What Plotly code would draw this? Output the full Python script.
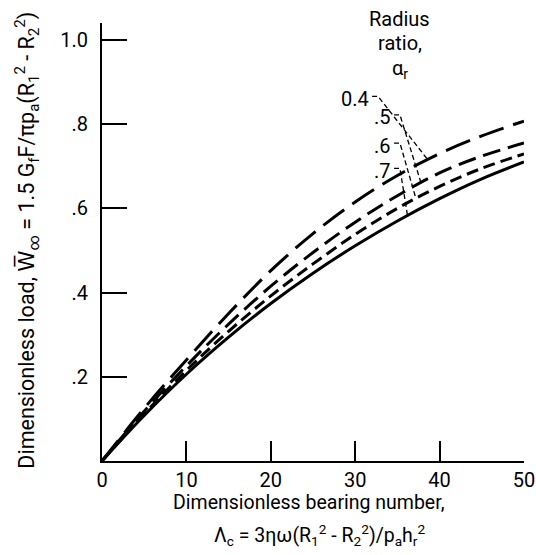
import numpy as np
import plotly.graph_objects as go

# Data
bearing_number = [0, 5, 10, 15, 20, 25, 30, 35, 40, 45, 50]
load_r04 = [0, 0.125, 0.24, 0.35, 0.452, 0.54, 0.615, 0.678, 0.73, 0.772, 0.807]
load_r05 = [0, 0.118, 0.226, 0.325, 0.415, 0.495, 0.567, 0.630, 0.684, 0.724, 0.755]
load_r06 = [0, 0.112, 0.215, 0.308, 0.392, 0.468, 0.538, 0.600, 0.652, 0.695, 0.729]
load_r07 = [0, 0.108, 0.206, 0.294, 0.374, 0.446, 0.511, 0.570, 0.623, 0.670, 0.710]
ratio_labels = ["0.4", ".5", ".6", ".7"]
x_ticks = [0, 10, 20, 30, 40, 50]
y_ticks = [0.2, 0.4, 0.6, 0.8, 1.0]
y_tick_text = [".2", ".4", ".6", ".8", "1.0"]

series = [load_r04, load_r05, load_r06, load_r07]
dashes = ["26px,10px", "18px,8px", "12px,6px", "solid"]

FONT = "Roboto, DejaVu Sans, sans-serif"

fig = go.Figure()
for vals, d in zip(series, dashes):
    fig.add_trace(go.Scatter(x=bearing_number, y=vals, mode="lines",
                             line=dict(color="black", width=3, dash=d, shape="spline", smoothing=1),
                             showlegend=False, hoverinfo="skip"))

# leader lines: label anchor (data coords) -> point on curve
label_anchor_x = [32.0, 34.6, 34.6, 34.6]
label_anchor_y = [0.866, 0.822, 0.755, 0.695]
curve_x = [38.6, 37.8, 37.2, 36.2]
for lx, ly, cx, vals, txt in zip(label_anchor_x, label_anchor_y, curve_x, series, ratio_labels):
    cy = float(np.interp(cx, bearing_number, vals))
    hx = lx + 0.7
    fig.add_trace(go.Scatter(x=[lx, hx, cx], y=[ly, ly, cy], mode="lines",
                             line=dict(color="black", width=1.3, dash="5px,3px"),
                             showlegend=False, hoverinfo="skip"))
    fig.add_annotation(x=lx - 0.1, y=ly - 0.006, text=txt, showarrow=False,
                       xanchor="right", yanchor="middle",
                       font=dict(family=FONT, size=20, color="black"))

# legend title
for txt, py in [("Radius", 1.01), ("ratio,", 0.955), ("α<sub>r</sub>", 0.895)]:
    fig.add_annotation(xref="paper", yref="paper", x=0.706, y=py, text=txt, showarrow=False,
                       xanchor="center", yanchor="middle",
                       font=dict(family=FONT, size=20, color="black"))

# axis titles
fig.add_annotation(xref="paper", yref="paper", x=-0.178, y=0.505, textangle=-90,
                   text="Dimensionless load, W\u0305<sub>∞</sub> = 1.5 G<sub>f</sub>F/πp<sub>a</sub>(R<sub>1</sub><sup>2</sup> - R<sub>2</sub><sup>2</sup>)",
                   showarrow=False, xanchor="center", yanchor="middle",
                   font=dict(family=FONT, size=21.5, color="black"))
fig.add_annotation(xref="paper", yref="paper", x=0.49, y=-0.094,
                   text="Dimensionless bearing number,",
                   showarrow=False, xanchor="center", yanchor="middle",
                   font=dict(family=FONT, size=19.5, color="black"))
fig.add_annotation(xref="paper", yref="paper", x=0.515, y=-0.17,
                   text="Λ<sub>c</sub> = 3ηω(R<sub>1</sub><sup>2</sup> - R<sub>2</sub><sup>2</sup>)/p<sub>a</sub>h<sub>r</sub><sup>2</sup>",
                   showarrow=False, xanchor="center", yanchor="middle",
                   font=dict(family=FONT, size=19.5, color="black"))

fig.update_xaxes(range=[0, 50], tickvals=x_ticks, ticks="inside", ticklen=20, tickwidth=2,
                 tickcolor="black", showline=True, linewidth=2, linecolor="black",
                 showgrid=False, zeroline=False, automargin=False,
                 tickfont=dict(family=FONT, size=20, color="black"))
fig.update_yaxes(range=[0, 1.04], tickvals=y_ticks, ticktext=y_tick_text, ticks="inside",
                 ticklen=25, tickwidth=2, tickcolor="black", showline=True, linewidth=2,
                 linecolor="black", showgrid=False, zeroline=False, ticklabelstandoff=8,
                 automargin=False, tickfont=dict(family=FONT, size=20, color="black"))

fig.update_layout(width=536, height=555, margin=dict(l=102, r=12, t=23, b=94),
                  plot_bgcolor="white", paper_bgcolor="white")

# remove the default page margin so the figure fills the window exactly
fig.write_html("out.html", config={"displayModeBar": False},
               post_script="document.body.style.margin='0';document.body.style.overflow='hidden';")
